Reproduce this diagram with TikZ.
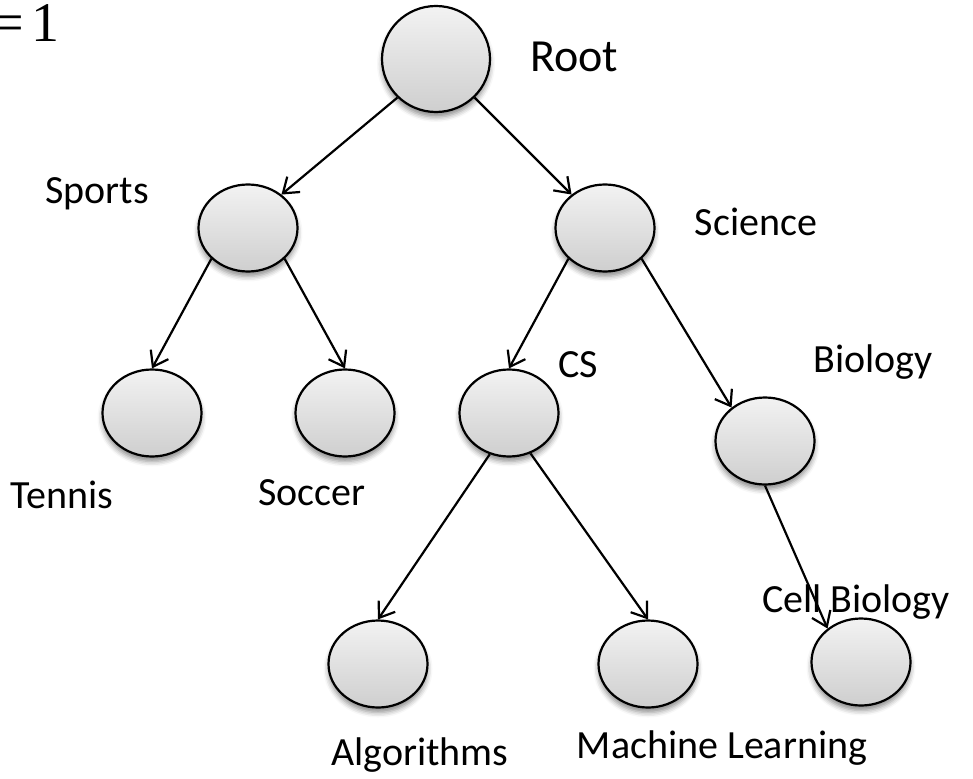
\documentclass[tikz,border=0pt]{standalone}
\usepackage{fontspec}
\setmainfont{Carlito}
\newfontfamily\eqfont{Liberation Serif}
\usetikzlibrary{shapes.geometric,arrows.meta,shadows.blur}
\begin{document}
\begin{tikzpicture}[x=1pt,y=-1pt,
  tnode/.style={ellipse,draw=black,line width=2.2pt,inner sep=0pt,
    top color=gray!10,bottom color=gray!38,
    blur shadow={shadow xshift=0pt,shadow yshift=-5pt,shadow blur radius=5pt,shadow opacity=45}},
  small/.style={tnode,minimum width=99pt,minimum height=87pt},
  lbl/.style={inner sep=0pt,font=\fontsize{40}{48}\selectfont},
  edge/.style={line width=2.2pt,-{Straight Barb[length=14pt,width=20pt,line width=2.2pt]}}]
\useasboundingbox (0,0) rectangle (973,778);
\node[inner sep=0pt,anchor=base east,font=\eqfont\fontsize{56}{60}\selectfont] (eq) at (60,42) {=\kern8pt 1};
\node[tnode,minimum width=108pt,minimum height=106pt] (root) at (436,59) {};
\node[small] (sports) at (248,228) {};
\node[small] (science) at (605,228) {};
\node[small] (tennis) at (152,413) {};
\node[small] (soccer) at (345,413) {};
\node[small] (cs) at (509,413) {};
\node[small] (bio) at (765,441) {};
\node[small] (alg) at (378,664) {};
\node[small] (ml) at (648,664) {};
\node[small] (cell) at (861,662) {};
\node[lbl,font=\fontsize{46}{54}\selectfont] (lroot) at (574,57) {Root};
\node[lbl] (lsports) at (97,194) {Sports};
\node[lbl] (lscience) at (756,222) {Science};
\node[lbl] (lcs) at (578,365) {CS};
\node[lbl] (lbio) at (873,362) {Biology};
\node[lbl] (ltennis) at (62,495) {Tennis};
\node[lbl] (lsoccer) at (312,493) {Soccer};
\node[lbl] (lcell) at (856,602) {Cell Biology};
\node[lbl] (lalg) at (420,755) {Algorithms};
\node[lbl] (lml) at (722,748) {Machine Learning};
\draw[edge] (root.225) -- (sports.45);
\draw[edge] (root.-45) -- (science.135);
\draw[edge] (sports.220) -- (tennis.north);
\draw[edge] (sports.-40) -- (soccer.north);
\draw[edge] (science.220) -- (cs.north);
\draw[edge] (science.-40) -- (bio.135);
\draw[edge] (cs.245) -- (alg.north);
\draw[edge] (cs.-62) -- (ml.north);
\draw[edge] (bio.south) -- (cell.135);
\end{tikzpicture}
\end{document}
